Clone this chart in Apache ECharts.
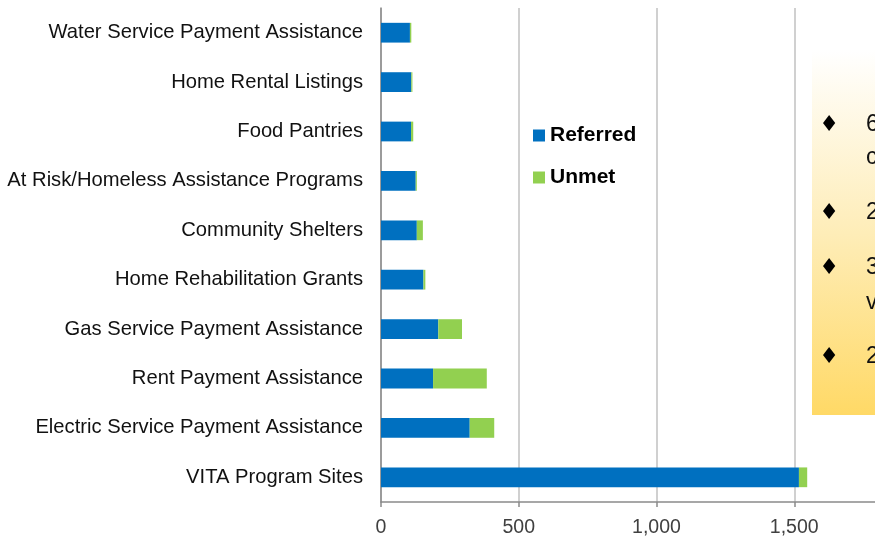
<!DOCTYPE html>
<html>
<head>
<meta charset="utf-8">
<style>
  html, body { margin: 0; padding: 0; background: #fff; }
  #chart { width: 875px; height: 542px; }
</style>
<script src="https://cdn.jsdelivr.net/npm/echarts/dist/echarts.min.js"></script>
</head>
<body>
<div id="chart"></div>
<script>
// bottom to top, as the category axis draws them
const categories = [
  'VITA Program Sites',
  'Electric Service Payment Assistance',
  'Rent Payment Assistance',
  'Gas Service Payment Assistance',
  'Home Rehabilitation Grants',
  'Community Shelters',
  'At Risk/Homeless Assistance Programs',
  'Food Pantries',
  'Home Rental Listings',
  'Water Service Payment Assistance'
]
const referred = [1517, 322, 189, 208, 154, 130, 126, 109, 110, 105]
const unmet = [30, 89, 195, 86, 7, 22, 4, 8, 4, 5]
const seriesNames = ['Referred', 'Unmet']
// visible start of each line in the side note (the rest is cut off)
const noteLines = ['6', 'c', '2', '3', 'v', '2']
const noteBullets = [true, false, true, true, false, true]

const noteY = [125, 158, 213, 268, 303, 357]

const chart = echarts.init(document.getElementById('chart'))

const noteGraphics = [
  {
    type: 'rect',
    left: 812,
    top: 50,
    shape: { width: 80, height: 365 },
    style: {
      fill: new echarts.graphic.LinearGradient(0, 0, 0, 1, [
        { offset: 0, color: '#FFFFFF' },
        { offset: 0.5, color: '#FEEDB8' },
        { offset: 1, color: '#FFD966' }
      ])
    },
    z: 10
  }
]
noteLines.forEach((t, i) => {
  if (noteBullets[i]) {
    noteGraphics.push({
      type: 'text',
      x: 829,
      y: noteY[i],
      style: {
        text: '\u2666',
        fill: '#000',
        font: '22px "DejaVu Sans"',
        align: 'center',
        verticalAlign: 'middle'
      },
      z: 11
    })
  }
  noteGraphics.push({
    type: 'text',
    x: 866,
    y: noteY[i],
    style: {
      text: t,
      fill: '#111',
      font: '23px "Liberation Sans", Arial, sans-serif',
      align: 'left',
      verticalAlign: 'middle'
    },
    z: 11
  })
})

const option = {
  animation: false,
  textStyle: { fontFamily: '"Liberation Sans", Arial, sans-serif' },
  grid: {
    left: 381,
    top: 8,
    width: 551,
    height: 494,
    outerBoundsMode: 'none',
    containLabel: false
  },
  legend: {
    data: seriesNames,
    orient: 'vertical',
    left: 533,
    top: 125,
    padding: 0,
    itemWidth: 12,
    itemHeight: 12,
    itemGap: 21,
    icon: 'rect',
    textStyle: {
      color: '#000',
      fontSize: 21,
      fontWeight: 'bold'
    }
  },
  xAxis: {
    type: 'value',
    min: 0,
    max: 2000,
    interval: 500,
    axisLine: { show: true, lineStyle: { color: '#8a8a8a', width: 1.5 } },
    axisTick: { show: true, length: 5, lineStyle: { color: '#8a8a8a', width: 1.5 } },
    axisLabel: {
      color: '#404040',
      fontSize: 19.5,
      margin: 16,
      formatter: v => v.toLocaleString('en-US')
    },
    splitLine: { lineStyle: { color: '#c0c0c0', width: 1.5 } }
  },
  yAxis: {
    type: 'category',
    data: categories,
    axisLine: { lineStyle: { color: '#8a8a8a', width: 1.5 } },
    axisTick: { length: 5, lineStyle: { color: '#8a8a8a', width: 1.5 } },
    axisLabel: {
      color: '#111',
      fontSize: 20.2,
      margin: 18,
      padding: [3, 0, 0, 0]
    }
  },
  series: [
    {
      name: seriesNames[0],
      type: 'bar',
      stack: 'total',
      barWidth: '40%',
      data: referred,
      itemStyle: { color: '#0070C0' }
    },
    {
      name: seriesNames[1],
      type: 'bar',
      stack: 'total',
      barWidth: '40%',
      data: unmet,
      itemStyle: { color: '#92D050' }
    }
  ],
  graphic: noteGraphics
}

chart.setOption(option)

window.addEventListener('resize', () => chart.resize())
</script>
</body>
</html>
